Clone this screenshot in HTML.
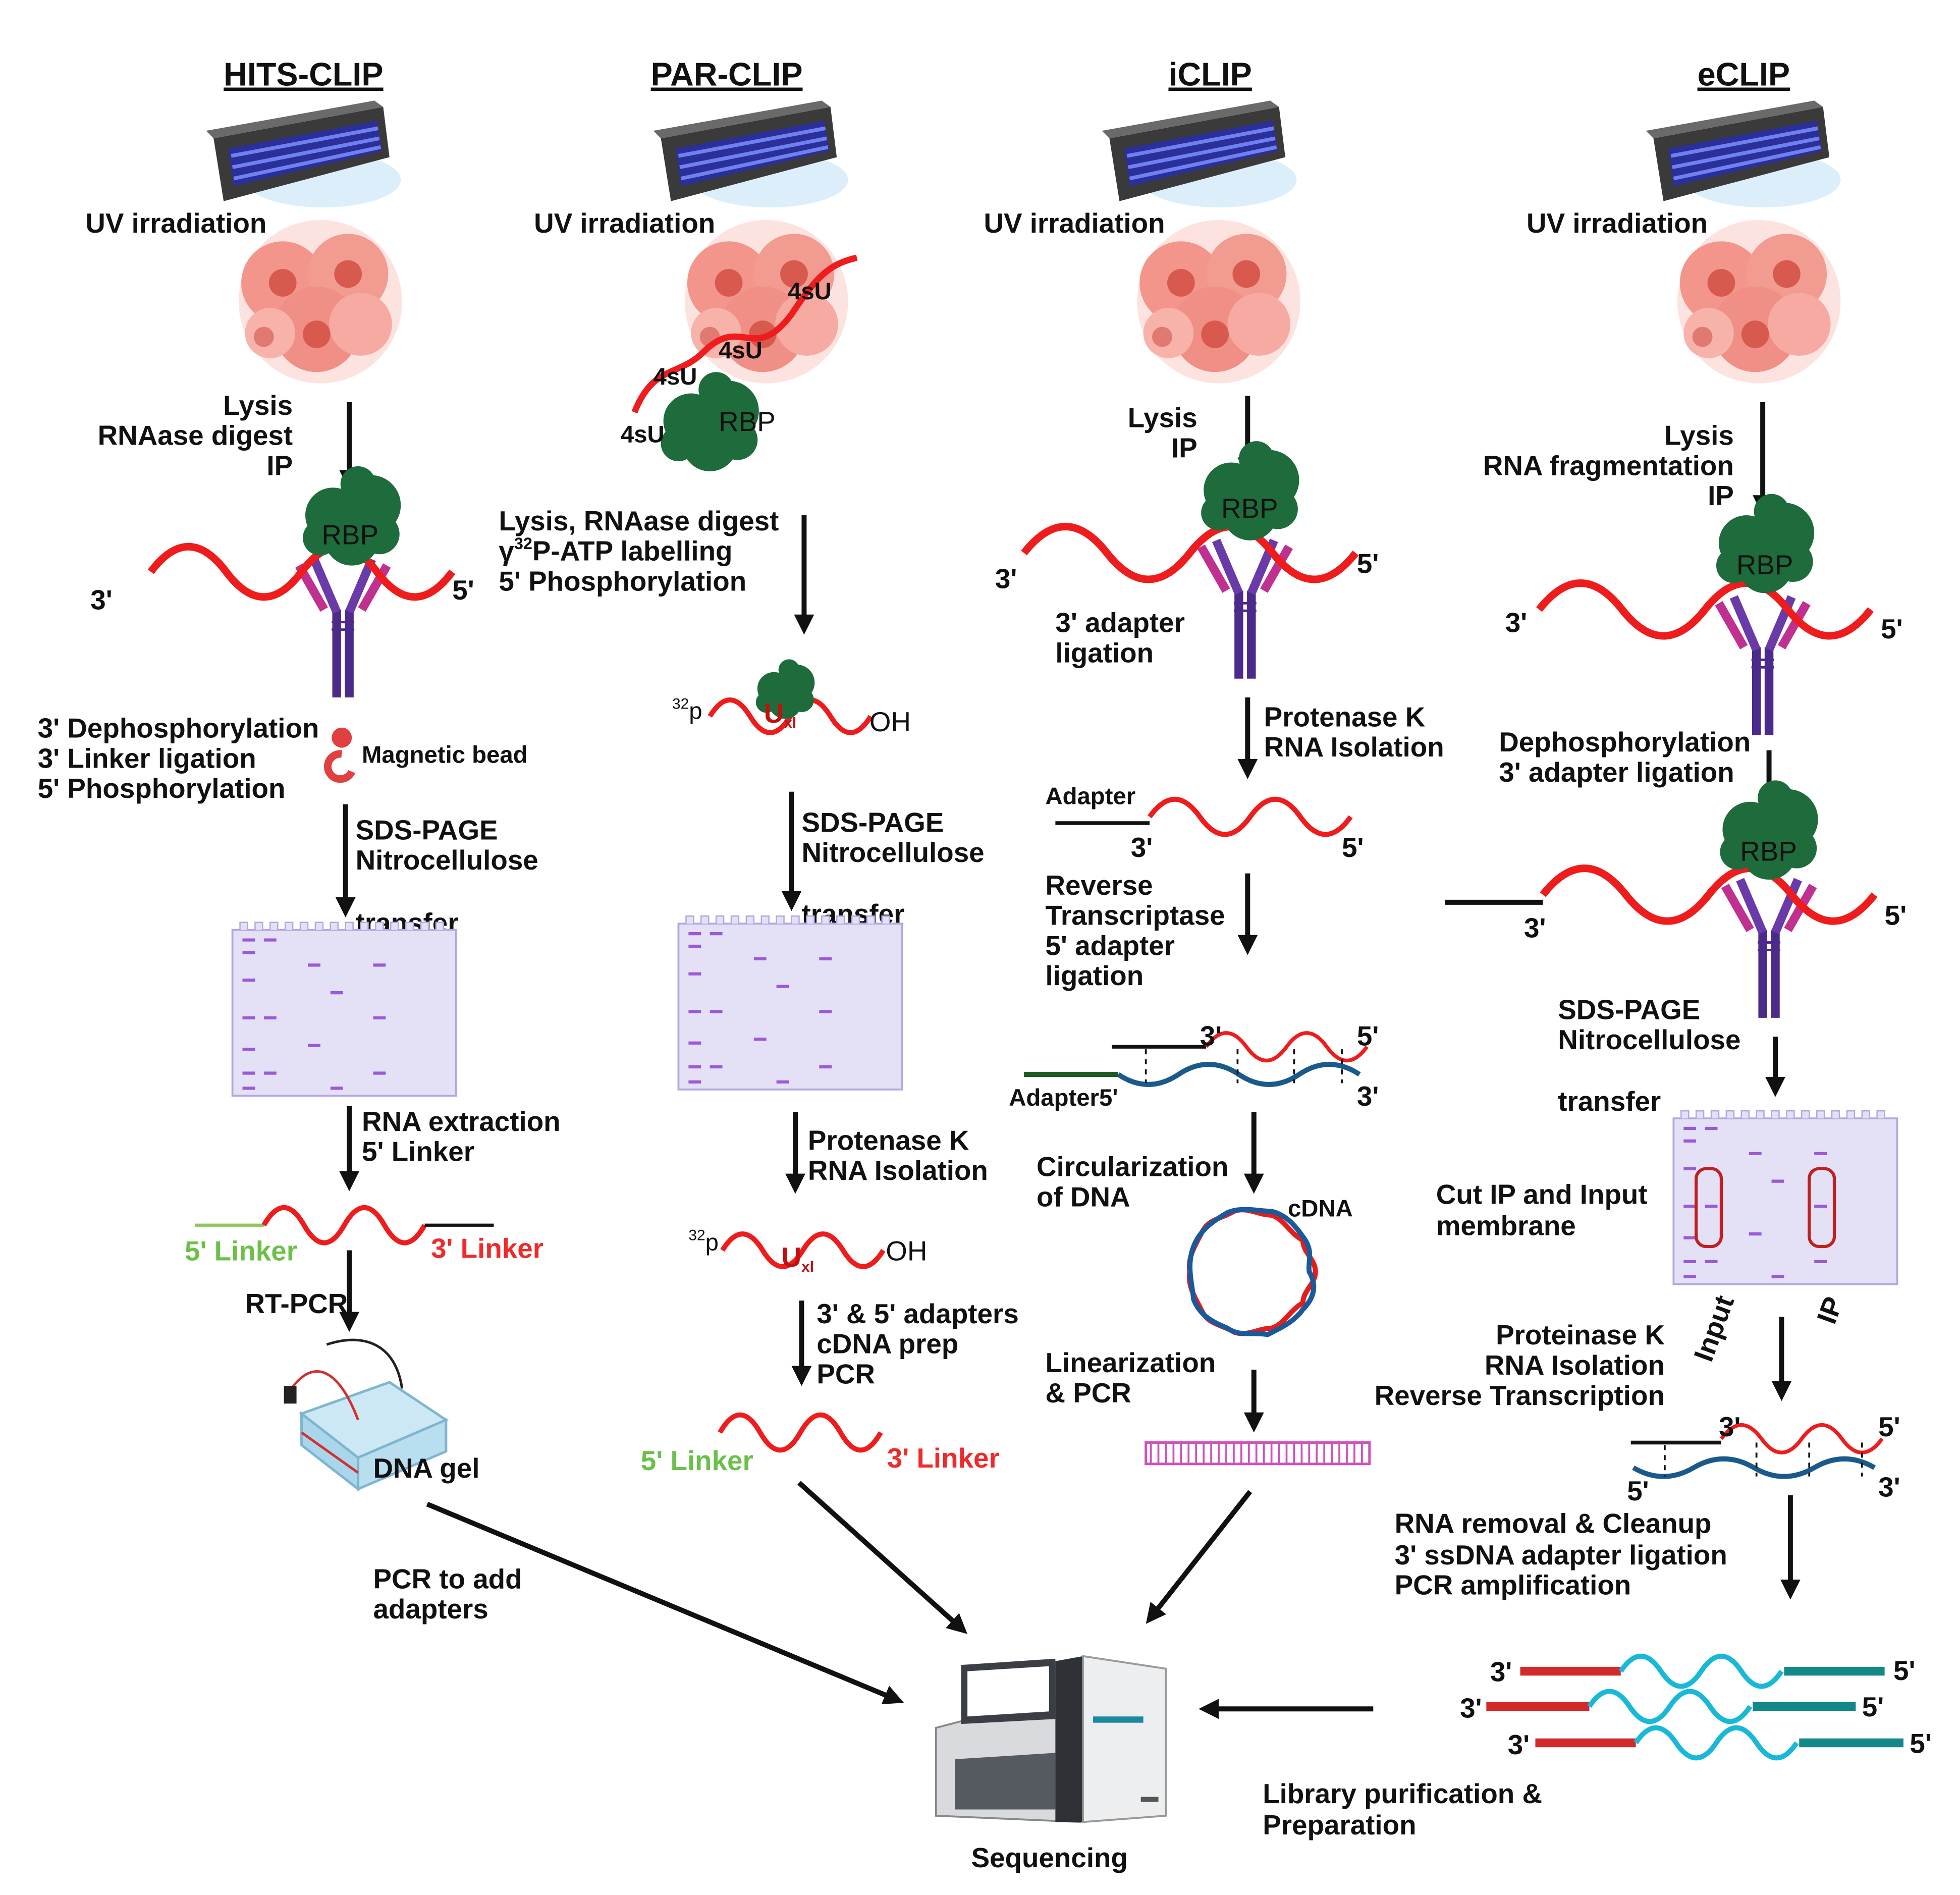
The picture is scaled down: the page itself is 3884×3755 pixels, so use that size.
<!DOCTYPE html>
<html><head><meta charset="utf-8"><style>
html,body{margin:0;padding:0;background:#fff}
svg{display:block}
text{font-family:"Liberation Sans",sans-serif;font-weight:bold;font-size:22px;fill:#111}
.t{font-size:26px;text-decoration:underline}
.s{font-size:19px}
</style></head><body>
<svg width="3884" height="3755" viewBox="0 0 1560 1508" xmlns="http://www.w3.org/2000/svg">
<defs>
<marker id="ah" markerWidth="4" markerHeight="4" refX="2" refY="2" orient="auto" markerUnits="strokeWidth"><path d="M0,0 L4,2 L0,4z" fill="#111"/></marker>
<g id="lamp">
<ellipse cx="85" cy="55" rx="62" ry="22" fill="#d8ecf8" opacity="0.9"/>
<polygon points="-2,22 133,-3 138,37 6,72" fill="#3a3a3a"/>
<polygon points="-2,22 133,-3 126,-8 -8,16" fill="#6a6a6a"/>
<polygon points="10,30 128,8 132,32 14,60" fill="#2a2f9a"/>
<line x1="12" y1="36" x2="129" y2="14" stroke="#7080f0" stroke-width="3"/>
<line x1="13" y1="45" x2="130" y2="22" stroke="#7080f0" stroke-width="3"/>
<line x1="14" y1="54" x2="131" y2="29" stroke="#7080f0" stroke-width="3"/>
</g>
<g id="cells">
<circle cx="0" cy="0" r="65" fill="#fbd0cb" opacity="0.6"/>
<circle cx="-30" cy="-15" r="33" fill="#f4958c"/>
<circle cx="22" cy="-22" r="32" fill="#f29b91"/>
<circle cx="-3" cy="22" r="34" fill="#f08f85"/>
<circle cx="32" cy="18" r="25" fill="#f6aaa2"/>
<circle cx="-40" cy="25" r="20" fill="#f7b2aa"/>
<circle cx="-30" cy="-15" r="11" fill="#d85a4e"/>
<circle cx="22" cy="-22" r="11" fill="#d85a4e"/>
<circle cx="-3" cy="26" r="11" fill="#d85a4e"/>
<circle cx="-45" cy="28" r="8" fill="#e07a70"/>
</g>
<g id="rbp">
<circle cx="-15" cy="0" r="22" fill="#1e6b3c"/>
<circle cx="15" cy="-8" r="24" fill="#1e6b3c"/>
<circle cx="0" cy="18" r="22" fill="#1e6b3c"/>
<circle cx="22" cy="15" r="16" fill="#1e6b3c"/>
<circle cx="-25" cy="18" r="14" fill="#1e6b3c"/>
<circle cx="5" cy="-25" r="14" fill="#1e6b3c"/>
</g>
<g id="ab">
<line x1="-4" y1="40" x2="-4" y2="110" stroke="#4b2a8a" stroke-width="7"/>
<line x1="6" y1="40" x2="6" y2="110" stroke="#4b2a8a" stroke-width="7"/>
<line x1="-4" y1="42" x2="-22" y2="0" stroke="#6a3aa8" stroke-width="7"/>
<line x1="6" y1="42" x2="24" y2="0" stroke="#6a3aa8" stroke-width="7"/>
<line x1="-14" y1="40" x2="-34" y2="5" stroke="#c03090" stroke-width="7"/>
<line x1="16" y1="40" x2="36" y2="5" stroke="#c03090" stroke-width="7"/>
<line x1="-8" y1="50" x2="10" y2="50" stroke="#4b2a8a" stroke-width="2"/>
<line x1="-8" y1="56" x2="10" y2="56" stroke="#4b2a8a" stroke-width="2"/>
</g>
<g id="gel">
<rect x="0" y="0" width="178" height="132" fill="#e4e0f6" stroke="#b5a6e0" stroke-width="1.5"/>
<path d="M0,0 h6 v-6 h6 v6 h6 v-6 h6 v6 h6 v-6 h6 v6 h6 v-6 h6 v6 h6 v-6 h6 v6 h6 v-6 h6 v6 h6 v-6 h6 v6 h6 v-6 h6 v6 h6 v-6 h6 v6 h6 v-6 h6 v6 h6 v-6 h6 v6 h6 v-6 h6 v6 h6 v-6 h6 v6 h6 v-6 h6 v6 h10" fill="#e4e0f6" stroke="#b5a6e0" stroke-width="1"/>
<g stroke="#9a5ad8" stroke-width="2.5">
<line x1="8" y1="8" x2="18" y2="8"/><line x1="25" y1="8" x2="35" y2="8"/>
<line x1="8" y1="18" x2="18" y2="18"/><line x1="60" y1="28" x2="70" y2="28"/><line x1="112" y1="28" x2="122" y2="28"/>
<line x1="8" y1="40" x2="18" y2="40"/><line x1="78" y1="50" x2="88" y2="50"/>
<line x1="8" y1="70" x2="18" y2="70"/><line x1="25" y1="70" x2="35" y2="70"/><line x1="112" y1="70" x2="122" y2="70"/>
<line x1="8" y1="95" x2="18" y2="95"/><line x1="60" y1="92" x2="70" y2="92"/>
<line x1="8" y1="114" x2="18" y2="114"/><line x1="25" y1="114" x2="35" y2="114"/><line x1="112" y1="114" x2="122" y2="114"/>
<line x1="8" y1="126" x2="18" y2="126"/><line x1="78" y1="126" x2="88" y2="126"/>
</g>
</g>
</defs>

<g fill="none" stroke="#111" stroke-width="4" marker-end="url(#ah)">
<line x1="278" y1="320" x2="278" y2="382"/>
<line x1="275" y1="640" x2="275" y2="722"/>
<line x1="278" y1="880" x2="278" y2="940"/>
<line x1="278" y1="995" x2="278" y2="1052"/>
<line x1="340" y1="1197" x2="712" y2="1352"/>
<line x1="640" y1="410" x2="640" y2="497"/>
<line x1="630" y1="630" x2="630" y2="717"/>
<line x1="633" y1="885" x2="633" y2="942"/>
<line x1="638" y1="1035" x2="638" y2="1095"/>
<line x1="636" y1="1180" x2="764" y2="1295"/>
<line x1="993" y1="315" x2="993" y2="372"/>
<line x1="993" y1="555" x2="993" y2="612"/>
<line x1="993" y1="695" x2="993" y2="752"/>
<line x1="998" y1="885" x2="998" y2="942"/>
<line x1="998" y1="1090" x2="998" y2="1132"/>
<line x1="995" y1="1187" x2="917" y2="1286"/>
<line x1="1403" y1="320" x2="1403" y2="402"/>
<line x1="1408" y1="597" x2="1408" y2="637"/>
<line x1="1413" y1="825" x2="1413" y2="865"/>
<line x1="1418" y1="1048" x2="1418" y2="1107"/>
<line x1="1425" y1="1190" x2="1425" y2="1265"/>
<line x1="1093" y1="1360" x2="962" y2="1360"/>
</g>

<text class="t" x="178" y="68">HITS-CLIP</text>
<text class="t" x="518" y="68">PAR-CLIP</text>
<text class="t" x="930" y="68">iCLIP</text>
<text class="t" x="1351" y="68">eCLIP</text>

<use href="#lamp" x="172" y="88"/><use href="#lamp" x="528" y="88"/><use href="#lamp" x="885" y="88"/><use href="#lamp" x="1318" y="88"/>
<use href="#cells" x="255" y="240"/><use href="#cells" x="610" y="240"/><use href="#cells" x="970" y="240"/><use href="#cells" x="1400" y="240"/>
<text x="68" y="185">UV irradiation</text><text x="425" y="185">UV irradiation</text><text x="783" y="185">UV irradiation</text><text x="1215" y="185">UV irradiation</text>

<g text-anchor="end"><text x="233" y="330">Lysis</text><text x="233" y="354">RNAase digest</text><text x="233" y="378">IP</text></g>
<use href="#ab" x="272" y="445"/>
<path d="M120,455 q30,-40 60,0 t60,0 t60,0 t60,0" fill="none" stroke="#ee1c1c" stroke-width="6"/>
<use href="#rbp" x="280" y="410"/><text x="256" y="433" style="font-weight:normal;fill:#111">RBP</text>
<text x="72" y="485">3'</text><text x="360" y="477">5'</text>
<circle cx="272" cy="587" r="8" fill="#e04040"/><path d="M272,600 a10,10 0 1,0 8,14" fill="none" stroke="#e04040" stroke-width="6"/>
<text class="s" x="288" y="607">Magnetic bead</text>
<text x="30" y="587">3' Dephosphorylation</text><text x="30" y="611">3' Linker ligation</text><text x="30" y="635">5' Phosphorylation</text>
<text x="283" y="668">SDS-PAGE</text><text x="283" y="692">Nitrocellulose</text><text x="283" y="742">transfer</text>
<use href="#gel" x="185" y="740"/>
<text x="288" y="900">RNA extraction</text><text x="288" y="924">5' Linker</text>
<line x1="155" y1="975" x2="210" y2="975" stroke="#8cc85a" stroke-width="2.5"/>
<path d="M210,975 q16,-28 32,0 t32,0 t32,0 t32,0" fill="none" stroke="#ee1c1c" stroke-width="4"/>
<line x1="338" y1="975" x2="393" y2="975" stroke="#111" stroke-width="2.5"/>
<text x="147" y="1003" style="fill:#6cc04a">5' Linker</text><text x="343" y="1001" style="fill:#ee2a2a">3' Linker</text>
<text x="195" y="1045">RT-PCR</text>
<g>
<polygon points="240,1125 310,1100 355,1130 285,1160" fill="#cbe8f4" stroke="#7fb6cf" stroke-width="2"/>
<polygon points="240,1125 285,1160 285,1185 240,1150" fill="#a9d6ea" stroke="#7fb6cf" stroke-width="2"/>
<polygon points="285,1160 355,1130 355,1155 285,1185" fill="#b9def0" stroke="#7fb6cf" stroke-width="2"/>
<line x1="240" y1="1140" x2="285" y2="1172" stroke="#d03030" stroke-width="2"/>
<path d="M285,1130 C270,1090 250,1080 232,1105" fill="none" stroke="#d03030" stroke-width="2"/>
<path d="M320,1105 C315,1070 290,1060 260,1070" fill="none" stroke="#222" stroke-width="2"/>
<rect x="226" y="1103" width="10" height="14" fill="#222"/>
</g>
<text x="297" y="1176">DNA gel</text>
<text x="297" y="1264">PCR to add</text><text x="297" y="1288">adapters</text>

<path d="M505,328 C520,290 540,300 560,280 C590,250 600,290 630,250 C650,220 660,210 682,205" fill="none" stroke="#ee1c1c" stroke-width="5"/>
<use href="#rbp" x="565" y="335"/><text x="572" y="343" style="font-weight:normal">RBP</text>
<text class="s" x="627" y="238">4sU</text><text class="s" x="572" y="285">4sU</text><text class="s" x="520" y="306">4sU</text><text class="s" x="494" y="352">4sU</text>
<text x="397" y="422">Lysis, RNAase digest</text><text x="397" y="446">γ<tspan font-size="13" dy="-9">32</tspan><tspan dy="9">P-ATP labelling</tspan></text><text x="397" y="470">5' Phosphorylation</text>
<text x="535" y="572" class="s" style="font-weight:normal"><tspan font-size="12" dy="-8">32</tspan><tspan dy="8">p</tspan></text>
<path d="M565,570 q16,-26 32,0 t32,0 t32,0 t32,0" fill="none" stroke="#ee1c1c" stroke-width="4"/>
<g transform="translate(625,548) scale(0.6)"><use href="#rbp"/></g>
<text x="608" y="575" style="fill:#c01010">U<tspan font-size="12" dy="4">xl</tspan></text>
<text x="692" y="582" style="font-weight:normal">OH</text>
<text x="638" y="662">SDS-PAGE</text><text x="638" y="686">Nitrocellulose</text><text x="638" y="735">transfer</text>
<use href="#gel" x="540" y="735"/>
<text x="643" y="915">Protenase K</text><text x="643" y="939">RNA Isolation</text>
<text x="548" y="995" class="s" style="font-weight:normal"><tspan font-size="12" dy="-8">32</tspan><tspan dy="8">p</tspan></text>
<path d="M575,995 q16,-26 32,0 t32,0 t32,0 t32,0" fill="none" stroke="#ee1c1c" stroke-width="4"/>
<text x="622" y="1008" style="fill:#c01010">U<tspan font-size="12" dy="4">xl</tspan></text>
<text x="705" y="1003" style="font-weight:normal">OH</text>
<text x="650" y="1053">3' &amp; 5' adapters</text><text x="650" y="1077">cDNA prep</text><text x="650" y="1101">PCR</text>
<path d="M573,1140 q16,-28 32,0 t32,0 t32,0 t32,0" fill="none" stroke="#ee1c1c" stroke-width="4"/>
<text x="510" y="1170" style="fill:#6cc04a">5' Linker</text><text x="706" y="1168" style="fill:#ee2a2a">3' Linker</text>

<g text-anchor="end"><text x="953" y="340">Lysis</text><text x="953" y="364">IP</text></g>
<use href="#ab" x="990" y="430"/>
<path d="M815,440 q33,-42 66,0 t66,0 t66,0 t66,0" fill="none" stroke="#ee1c1c" stroke-width="6"/>
<use href="#rbp" x="995" y="390"/><text x="972" y="412" style="font-weight:normal">RBP</text>
<text x="792" y="468">3'</text><text x="1080" y="456">5'</text>
<text x="840" y="503">3' adapter</text><text x="840" y="527">ligation</text>
<text x="1006" y="578">Protenase K</text><text x="1006" y="602">RNA Isolation</text>
<text class="s" x="832" y="640">Adapter</text>
<line x1="840" y1="655" x2="915" y2="655" stroke="#111" stroke-width="3"/>
<path d="M915,650 q20,-28 40,0 t40,0 t40,0 t40,0" fill="none" stroke="#ee1c1c" stroke-width="4"/>
<text x="900" y="682">3'</text><text x="1068" y="682">5'</text>
<text x="832" y="712">Reverse</text><text x="832" y="736">Transcriptase</text><text x="832" y="760">5' adapter</text><text x="832" y="784">ligation</text>
<line x1="885" y1="833" x2="960" y2="833" stroke="#111" stroke-width="3"/>
<path d="M960,833 q16,-22 32,0 t32,0 t32,0 t32,0" fill="none" stroke="#ee1c1c" stroke-width="3"/>
<line x1="815" y1="855" x2="890" y2="855" stroke="#1e5a20" stroke-width="4"/>
<path d="M890,855 q24,16 48,0 t48,0 t48,0 t48,0" fill="none" stroke="#1a5a8a" stroke-width="4"/>
<g stroke="#111" stroke-width="1.5" stroke-dasharray="4,4"><line x1="912" y1="835" x2="912" y2="862"/><line x1="985" y1="835" x2="985" y2="862"/><line x1="1030" y1="835" x2="1030" y2="862"/><line x1="1068" y1="835" x2="1068" y2="862"/></g>
<text x="955" y="832">3'</text><text x="1080" y="832">5'</text>
<text x="803" y="880" class="s">Adapter5'</text><text x="1080" y="880">3'</text>
<text x="825" y="936">Circularization</text><text x="825" y="960">of DNA</text>
<text class="s" x="1025" y="968">cDNA</text>
<g transform="translate(997,1012)">
<path d="M50,0 C50,10 40,15 40,25 C30,30 25,42 15,45 C5,45 -5,52 -15,48 C-25,42 -35,42 -40,32 C-45,22 -52,12 -50,0 C-52,-12 -45,-22 -40,-32 C-35,-42 -25,-42 -15,-48 C-5,-52 5,-45 15,-45 C25,-42 30,-30 40,-25 C40,-15 50,-10 50,0z" fill="none" stroke="#e41c1c" stroke-width="4"/>
<path d="M45,0 C52,12 48,22 40,30 C33,40 22,45 12,50 C0,48 -10,52 -20,45 C-32,40 -42,35 -47,22 C-48,10 -53,-5 -47,-20 C-42,-33 -32,-40 -20,-47 C-8,-52 5,-48 15,-48 C28,-45 35,-35 42,-25 C48,-15 44,-8 45,0z" fill="none" stroke="#1a5a9a" stroke-width="4"/>
</g>
<text x="832" y="1092">Linearization</text><text x="832" y="1116">&amp; PCR</text>
<rect x="912" y="1148" width="178" height="17" fill="none" stroke="#d050c0" stroke-width="2"/>
<path d="M916,1148 v17 M922,1148 v17 M928,1148 v17 M934,1148 v17 M940,1148 v17 M946,1148 v17 M952,1148 v17 M958,1148 v17 M964,1148 v17 M970,1148 v17 M976,1148 v17 M982,1148 v17 M988,1148 v17 M994,1148 v17 M1000,1148 v17 M1006,1148 v17 M1012,1148 v17 M1018,1148 v17 M1024,1148 v17 M1030,1148 v17 M1036,1148 v17 M1042,1148 v17 M1048,1148 v17 M1054,1148 v17 M1060,1148 v17 M1066,1148 v17 M1072,1148 v17 M1078,1148 v17 M1084,1148 v17" stroke="#d050c0" stroke-width="1.5"/>

<g text-anchor="end"><text x="1380" y="354">Lysis</text><text x="1380" y="378">RNA fragmentation</text><text x="1380" y="402">IP</text></g>
<use href="#ab" x="1402" y="475"/>
<path d="M1225,485 q33,-42 66,0 t66,0 t66,0 t66,0" fill="none" stroke="#ee1c1c" stroke-width="6"/>
<use href="#rbp" x="1405" y="432"/><text x="1382" y="457" style="font-weight:normal">RBP</text>
<text x="1198" y="503">3'</text><text x="1497" y="508">5'</text>
<text x="1193" y="598">Dephosphorylation</text><text x="1193" y="622">3' adapter ligation</text>
<use href="#ab" x="1407" y="700"/>
<line x1="1150" y1="718" x2="1228" y2="718" stroke="#111" stroke-width="4"/>
<path d="M1228,712 q33,-42 66,0 t66,0 t66,0 t66,0" fill="none" stroke="#ee1c1c" stroke-width="6"/>
<use href="#rbp" x="1408" y="660"/><text x="1385" y="685" style="font-weight:normal">RBP</text>
<text x="1213" y="746">3'</text><text x="1500" y="736">5'</text>
<text x="1240" y="811">SDS-PAGE</text><text x="1240" y="835">Nitrocellulose</text><text x="1240" y="884">transfer</text>
<use href="#gel" x="1332" y="890"/>
<rect x="1350" y="930" width="20" height="62" rx="8" fill="none" stroke="#c02020" stroke-width="2.5"/>
<rect x="1440" y="930" width="20" height="62" rx="8" fill="none" stroke="#c02020" stroke-width="2.5"/>
<text x="1143" y="958">Cut IP and Input</text><text x="1143" y="983">membrane</text>
<text transform="translate(1362,1085) rotate(-70)">Input</text>
<text transform="translate(1460,1055) rotate(-70)">IP</text>
<g text-anchor="end"><text x="1325" y="1070">Proteinase K</text><text x="1325" y="1094">RNA Isolation</text><text x="1325" y="1118">Reverse Transcription</text></g>
<line x1="1298" y1="1148" x2="1370" y2="1148" stroke="#111" stroke-width="3"/>
<path d="M1370,1145 q16,-22 32,0 t32,0 t32,0 t32,0" fill="none" stroke="#ee1c1c" stroke-width="3"/>
<path d="M1300,1168 q24,14 48,0 t48,0 t48,0 t48,0" fill="none" stroke="#1a5a8a" stroke-width="4"/>
<g stroke="#111" stroke-width="1.5" stroke-dasharray="4,4"><line x1="1325" y1="1150" x2="1325" y2="1175"/><line x1="1398" y1="1148" x2="1398" y2="1175"/><line x1="1440" y1="1148" x2="1440" y2="1175"/><line x1="1482" y1="1148" x2="1482" y2="1175"/></g>
<text x="1368" y="1143">3'</text><text x="1495" y="1143">5'</text><text x="1295" y="1194">5'</text><text x="1495" y="1191">3'</text>
<text x="1110" y="1220">RNA removal &amp; Cleanup</text><text x="1110" y="1245">3' ssDNA adapter ligation</text><text x="1110" y="1269">PCR amplification</text>
<g stroke-width="7" fill="none">
<line x1="1210" y1="1330" x2="1290" y2="1330" stroke="#d22a2a"/><path d="M1290,1330 q16,-24 32,0 t32,0 t32,0 t32,0" stroke="#1ab8d8" stroke-width="4"/><line x1="1420" y1="1330" x2="1500" y2="1330" stroke="#128888"/>
<line x1="1183" y1="1358" x2="1265" y2="1358" stroke="#d22a2a"/><path d="M1265,1358 q16,-24 32,0 t32,0 t32,0 t32,0" stroke="#1ab8d8" stroke-width="4"/><line x1="1395" y1="1358" x2="1477" y2="1358" stroke="#128888"/>
<line x1="1222" y1="1387" x2="1302" y2="1387" stroke="#d22a2a"/><path d="M1302,1387 q16,-24 32,0 t32,0 t32,0 t32,0" stroke="#1ab8d8" stroke-width="4"/><line x1="1432" y1="1387" x2="1515" y2="1387" stroke="#128888"/>
</g>
<text x="1186" y="1338">3'</text><text x="1507" y="1337">5'</text><text x="1162" y="1367">3'</text><text x="1482" y="1366">5'</text><text x="1200" y="1396">3'</text><text x="1520" y="1395">5'</text>
<text x="1005" y="1435">Library purification &amp;</text><text x="1005" y="1460">Preparation</text>

<g>
<polygon points="745,1375 860,1345 860,1450 745,1445" fill="#d8dadd" stroke="#888" stroke-width="1.5"/>
<polygon points="765,1325 840,1320 840,1368 765,1372" fill="#3b3f45"/>
<polygon points="770,1330 835,1326 835,1362 770,1366" fill="#ffffff"/>
<polygon points="840,1322 862,1318 862,1450 840,1450" fill="#2e3236"/>
<polygon points="862,1318 928,1328 928,1445 862,1450" fill="#eceef0" stroke="#999" stroke-width="1.5"/>
<rect x="870" y="1366" width="40" height="5" fill="#1a8aa0"/>
<polygon points="760,1400 840,1395 840,1440 760,1440" fill="#555a60"/>
<rect x="908" y="1430" width="14" height="4" fill="#555"/>
</g>
<text x="773" y="1486">Sequencing</text>
</svg>
</body></html>
